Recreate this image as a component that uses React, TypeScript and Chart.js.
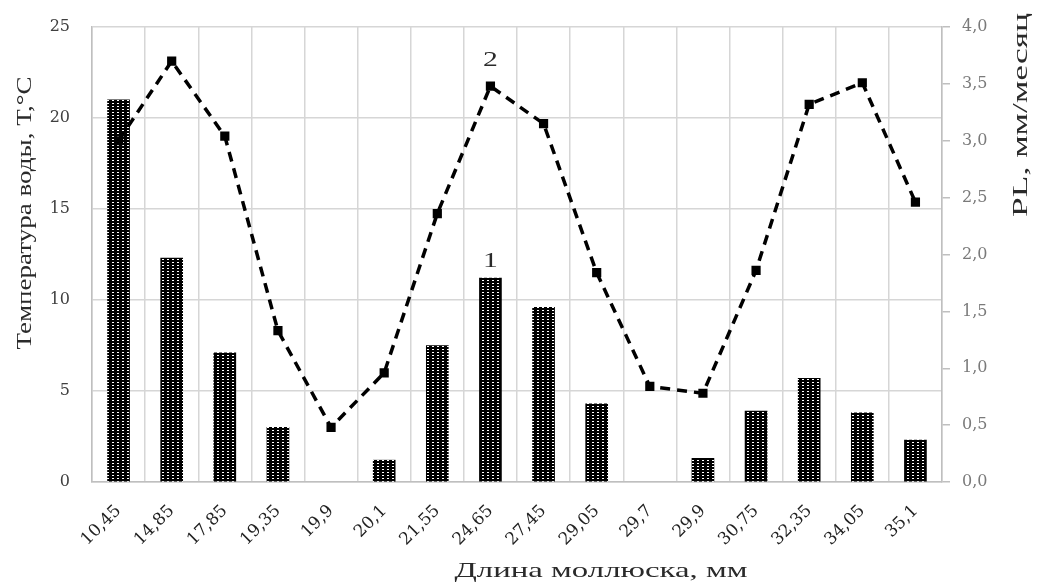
import React, { useEffect, useRef } from 'react';
import { Chart, registerables } from 'chart.js';

Chart.register(...registerables);

// Shell length, mm (categories)
const shellLengths = ['10,45', '14,85', '17,85', '19,35', '19,9', '20,1', '21,55', '24,65', '27,45', '29,05', '29,7', '29,9', '30,75', '32,35', '34,05', '35,1'];
// Series 1: water temperature, °C (bars, left axis); null = no bar
const waterTemp = [21.0, 12.3, 7.1, 3.0, null, 1.2, 7.5, 11.2, 9.6, 4.3, null, 1.3, 3.9, 5.7, 3.8, 2.3];
// Series 2: PL, mm/month (dashed line, right axis)
const growthPL = [3.0, 3.7, 3.04, 1.33, 0.48, 0.96, 2.36, 3.48, 3.15, 1.84, 0.84, 0.78, 1.86, 3.32, 3.51, 2.46];
// Axis ranges
const leftAxis = { min: 0, max: 25, step: 5 };
const rightAxis = { min: 0, max: 4, step: 0.5 };
// Texts
const leftTitle = 'Температура воды, Т,°С';
const rightTitle = 'PL, мм/месяц';
const bottomTitle = 'Длина моллюска, мм';
const markLabelIndex = 7;

function drawText(
  ctx: CanvasRenderingContext2D,
  text: string,
  x: number,
  y: number,
  o: { size: number; rot?: number; fit?: number; sx?: number; baseline?: CanvasTextBaseline; color?: string }
) {
  ctx.save();
  ctx.font = `${o.size}px "Liberation Serif", "Times New Roman", serif`;
  const w = ctx.measureText(text).width;
  const sx = o.fit ? o.fit / w : o.sx || 1;
  ctx.translate(x, y);
  if (o.rot) ctx.rotate(o.rot);
  ctx.scale(sx, 1);
  ctx.textAlign = 'center';
  ctx.textBaseline = o.baseline || 'middle';
  ctx.fillStyle = o.color || '#2a2a2a';
  ctx.fillText(text, 0, 0);
  ctx.restore();
}

const textPlugin = {
  id: 'textPlugin',
  afterDraw(chart: any) {
    const ctx = chart.ctx as CanvasRenderingContext2D;
    drawText(ctx, leftTitle, 25, 213, { size: 21, rot: -Math.PI / 2, fit: 273 });
    drawText(ctx, rightTitle, 1021, 115, { size: 21, rot: -Math.PI / 2, fit: 204 });
    drawText(ctx, bottomTitle, 601, 577, { size: 21, fit: 293, baseline: 'alphabetic' });
    const bar = chart.getDatasetMeta(0).data[markLabelIndex];
    const pt = chart.getDatasetMeta(1).data[markLabelIndex];
    if (bar) drawText(ctx, '1', bar.x, bar.y - 17, { size: 22, sx: 1.35 });
    if (pt) drawText(ctx, '2', pt.x, pt.y - 26, { size: 22, sx: 1.35 });
  },
};

export default function App() {
  const canvasRef = useRef<HTMLCanvasElement | null>(null);

  useEffect(() => {
    const canvas = canvasRef.current;
    if (!canvas) return;

    const tile = document.createElement('canvas');
    tile.width = 5;
    tile.height = 3;
    const tctx = tile.getContext('2d')!;
    tctx.fillStyle = '#000';
    tctx.fillRect(0, 0, 5, 3);
    tctx.fillStyle = '#fff';
    tctx.fillRect(2, 1, 2, 1);
    const pattern = canvas.getContext('2d')!.createPattern(tile, 'repeat');

    const gridColor = '#d6d6d6';
    const axisColor = '#bfbfbf';
    const tickFont = { family: '"DejaVu Serif", serif', size: 16 };

    const chart = new Chart(canvas, {
      type: 'bar',
      data: {
        labels: shellLengths,
        datasets: [
          {
            type: 'bar',
            data: waterTemp,
            backgroundColor: pattern as any,
            borderWidth: 0,
            barThickness: 22,
            yAxisID: 'y',
            order: 1,
          } as any,
          {
            type: 'line',
            data: growthPL,
            borderColor: '#000',
            borderWidth: 3.5,
            borderDash: [10, 7],
            tension: 0,
            pointStyle: 'rect',
            pointRadius: 6.5,
            pointBackgroundColor: '#000',
            pointBorderWidth: 0,
            yAxisID: 'y1',
            order: 0,
          } as any,
        ],
      },
      options: {
        animation: false,
        responsive: true,
        maintainAspectRatio: false,
        layout: { padding: { top: 27, left: 0, right: 0, bottom: 0 } },
        plugins: { legend: { display: false }, tooltip: { enabled: false } },
        scales: {
          x: {
            grid: { color: gridColor, lineWidth: 1.5, drawTicks: false, offset: true },
            border: { color: axisColor, width: 1.5 },
            ticks: {
              font: { family: '"DejaVu Serif", serif', size: 17 },
              color: '#222',
              minRotation: 45,
              maxRotation: 45,
              autoSkip: false,
              padding: 19,
            },
            afterFit: (s: any) => {
              s.height = 101;
            },
          },
          y: {
            position: 'left',
            min: leftAxis.min,
            max: leftAxis.max,
            grid: { color: gridColor, lineWidth: 1.5, drawTicks: true, tickLength: 18, tickColor: 'rgba(0,0,0,0)' },
            border: { color: axisColor, width: 1.5 },
            ticks: { stepSize: leftAxis.step, font: tickFont, color: '#404040', padding: 4 },
            afterFit: (s: any) => {
              s.width = 92;
            },
          },
          y1: {
            position: 'right',
            min: rightAxis.min,
            max: rightAxis.max,
            grid: { drawOnChartArea: false, drawTicks: true, tickLength: 8, color: axisColor, lineWidth: 1.5 },
            border: { color: axisColor, width: 1.5 },
            ticks: {
              stepSize: rightAxis.step,
              font: tickFont,
              color: '#7a7a7a',
              padding: 12,
              callback: (v: any) => Number(v).toFixed(1).replace('.', ','),
            },
            afterFit: (s: any) => {
              s.width = 101;
            },
          },
        },
      },
      plugins: [textPlugin],
    });

    return () => chart.destroy();
  }, []);

  return (
    <div style={{ position: 'fixed', left: 0, top: 0, width: 1043, height: 583, background: '#fff' }}>
      <canvas ref={canvasRef} />
    </div>
  );
}
